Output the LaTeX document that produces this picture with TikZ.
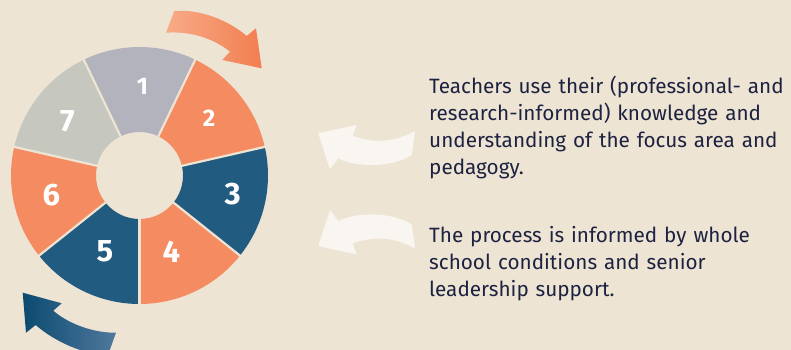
\documentclass[tikz,border=0pt]{standalone}
\usepackage{fontspec}
\setmainfont{Fira Sans}
\usetikzlibrary{calc}
\definecolor{bg}{HTML}{EEE4D4}
\definecolor{orng}{HTML}{F58B61}
\definecolor{navy}{HTML}{225B80}
\definecolor{grayA}{HTML}{B3B3BE}
\definecolor{grayB}{HTML}{C6C8C0}
\definecolor{ink}{HTML}{1C2240}
\definecolor{wht}{HTML}{F9F6F1}
\definecolor{orL}{HTML}{F7AC88}
\definecolor{orD}{HTML}{F27E50}
\definecolor{blD}{HTML}{0B4A70}
\definecolor{blL}{HTML}{50799C}
\tikzset{
  num/.style={text=white, inner sep=0pt, font=\fontsize{31pt}{31pt}\selectfont\bfseries},
  numsmall/.style={num, font=\fontsize{24pt}{24pt}\selectfont\bfseries},
  para/.style={text=ink, inner sep=0pt, align=left, text width=358pt, anchor=base west,
    font=\fontsize{20.7pt}{26.8pt}\selectfont},
  sep/.style={draw=bg, line width=2.2pt},
  whitearrow/.style={fill=wht}
}
\begin{document}
\begin{tikzpicture}[x=1pt,y=1pt]
\useasboundingbox (0,0) rectangle (791,350);
\fill[bg] (0,0) rectangle (791,350);
\coordinate (C) at (139.5,174.5);
% ring segments
\foreach \i/\col in {1/grayA,2/orng,3/navy,4/orng,5/navy,6/orng,7/grayB} {
  \pgfmathsetmacro\c{90-(\i-1)*360/7}
  \pgfmathsetmacro\s{\c+180/7}
  \pgfmathsetmacro\e{\c-180/7}
  \fill[\col] ($(C)+(\s:128.5)$) arc[start angle=\s, end angle=\e, radius=128.5pt]
    -- ($(C)+(\e:43.5)$) arc[start angle=\e, end angle=\s, radius=43.5pt] -- cycle;
}
% separators
\foreach \k in {0,...,6} {
  \pgfmathsetmacro\a{90+180/7-\k*360/7}
  \draw[sep] ($(C)+(\a:40)$) -- ($(C)+(\a:132)$);
}
% numbers
\node[numsmall] (n1) at (142.5,263.3) {1};
\node[numsmall] (n2) at (209,231.7) {2};
\node[num] (n3) at (232.8,155.5) {3};
\node[num] (n4) at (171.3,98.7) {4};
\node[num] (n5) at (105,98.7) {5};
\node[num] (n6) at (51.3,155) {6};
\node[num] (n7) at (67.5,228.7) {7};
% orange cycle arrow (top)
\shade[left color=orL, right color=orD]
  (174.3,339) .. controls (200,341) and (228,330) .. (246.7,314)
  -- (256,321.7) -- (261.7,281.7) -- (222.3,290) -- (230,298.3)
  .. controls (213,312) and (190,319) .. (166,317.3) -- cycle;
% blue cycle arrow (bottom)
\shade[left color=blD, right color=blL]
  (22.7,57.3) -- (61.7,46.7) -- (53.3,39.3)
  .. controls (70,25) and (95,17) .. (116,17.3)
  -- (108,-5) .. controls (85,-5) and (55,8) .. (35.7,25)
  -- (26,17.3) -- cycle;
% white arrows
\fill[whitearrow]
  (318.3,216.7) -- (356.7,225) -- (352.7,214)
  .. controls (375,206) and (395,208) .. (415,219)
  -- (411.7,195) .. controls (395,184) and (360,181) .. (338.3,191.7)
  -- (330,180.7) -- cycle;
\begin{scope}[shift={(0,320.6)}, yscale=-1]
\fill[whitearrow]
  (318.3,216.7) -- (356.7,225) -- (352.7,214)
  .. controls (375,206) and (395,208) .. (415,219)
  -- (411.7,195) .. controls (395,184) and (360,181) .. (338.3,191.7)
  -- (330,180.7) -- cycle;
\end{scope}
% texts
\node[para] (t1) at (429,256) {Teachers use their (professional- and\\research-informed) knowledge and\\understanding of the focus area and\\pedagogy.};
\node[para] (t2) at (429,107.3) {The process is informed by whole\\school conditions and senior\\leadership support.};
\end{tikzpicture}
\end{document}
